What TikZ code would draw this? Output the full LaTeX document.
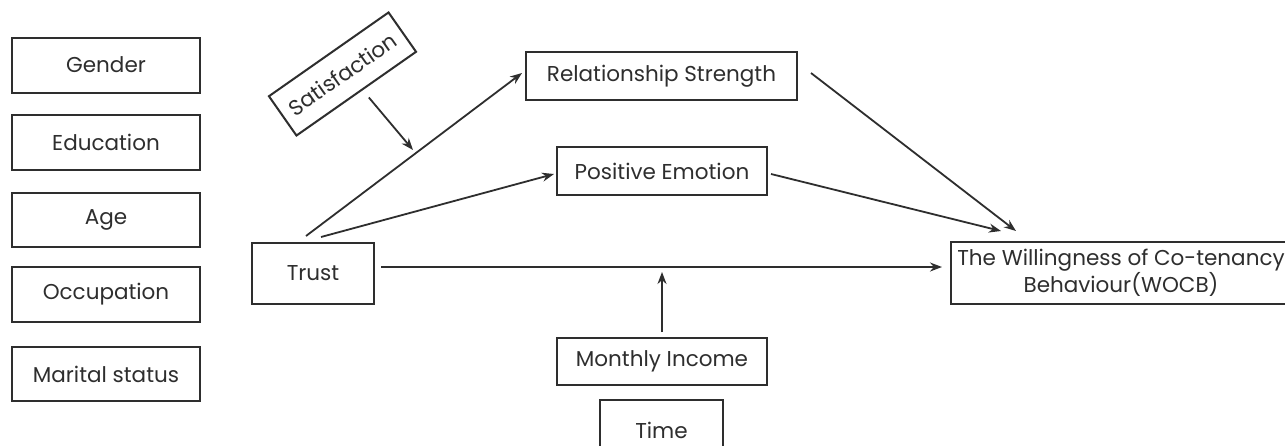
\documentclass[tikz,border=0pt]{standalone}
\usepackage{fontspec}
\setmainfont{Poppins}
\usetikzlibrary{arrows.meta}
\definecolor{ink}{HTML}{2E2E2E}
\tikzset{
  box/.style={draw=ink, line width=2pt, text=ink, inner sep=0pt, font=\fontsize{21.5}{24}\selectfont},
  arr/.style={draw=ink, line width=1.8pt, -{Stealth[length=12pt,width=9pt]}},
}
\begin{document}
\begin{tikzpicture}[x=1pt,y=-1pt]
\useasboundingbox (0,0) rectangle (1285,445);
\clip (0,0) rectangle (1285,445);
\fill[white] (0,0) rectangle (1285,445);
\node[box, minimum width=188pt, minimum height=55pt] (gender) at (106,65) {Gender};
\node[box, minimum width=188pt, minimum height=55pt] (edu) at (106,142.5) {Education};
\node[box, minimum width=188pt, minimum height=54pt] (age) at (106,220) {Age};
\node[box, minimum width=188pt, minimum height=55pt] (occ) at (106,294.5) {Occupation};
\node[box, minimum width=188pt, minimum height=54pt] (mar) at (106,374) {Marital status};
\node[box, minimum width=146pt, minimum height=48pt, rotate=35] (sat) at (342.5,74) {Satisfaction};
\node[box, minimum width=271pt, minimum height=48pt] (rs) at (661.5,76) {Relationship Strength};
\node[box, minimum width=210pt, minimum height=48pt] (pe) at (662,171) {Positive Emotion};
\node[box, minimum width=122pt, minimum height=61pt] (trust) at (313,273.5) {Trust};
\node[box, minimum width=340pt, minimum height=62pt, align=center, font=\fontsize{21.5}{22}\selectfont] (wocb) at (1121,273) {The Willingness of Co-tenancy\\Behaviour(WOCB)};
\node[box, minimum width=210pt, minimum height=47pt] (inc) at (662,361.5) {Monthly Income};
\node[box, minimum width=123pt, minimum height=60pt] (time) at (661.5,430) {Time};
\coordinate (satend) at (413,150);
\coordinate (incend) at (662,272);
\draw[arr] ([xshift=-7pt,yshift=6pt]trust.north) -- ([xshift=-3pt,yshift=3pt]rs.west);
\draw[arr] ([xshift=8pt,yshift=5pt]trust.north) -- ([xshift=-2pt,yshift=-3pt]pe.west);
\draw[arr] ([xshift=6pt,yshift=6.5pt]trust.east) -- ([xshift=-8pt,yshift=6pt]wocb.west);
\draw[arr] ([xshift=13pt,yshift=3pt]rs.east) -- ([xshift=66pt,yshift=10pt]wocb.north west);
\draw[arr] ([xshift=3pt,yshift=-3pt]pe.east) -- ([xshift=51pt,yshift=10pt]wocb.north west);
\draw[arr] ([yshift=5pt]inc.north) -- (incend);
\draw[arr] ([xshift=12pt,yshift=-3pt]sat.south) -- (satend);
\end{tikzpicture}
\end{document}
